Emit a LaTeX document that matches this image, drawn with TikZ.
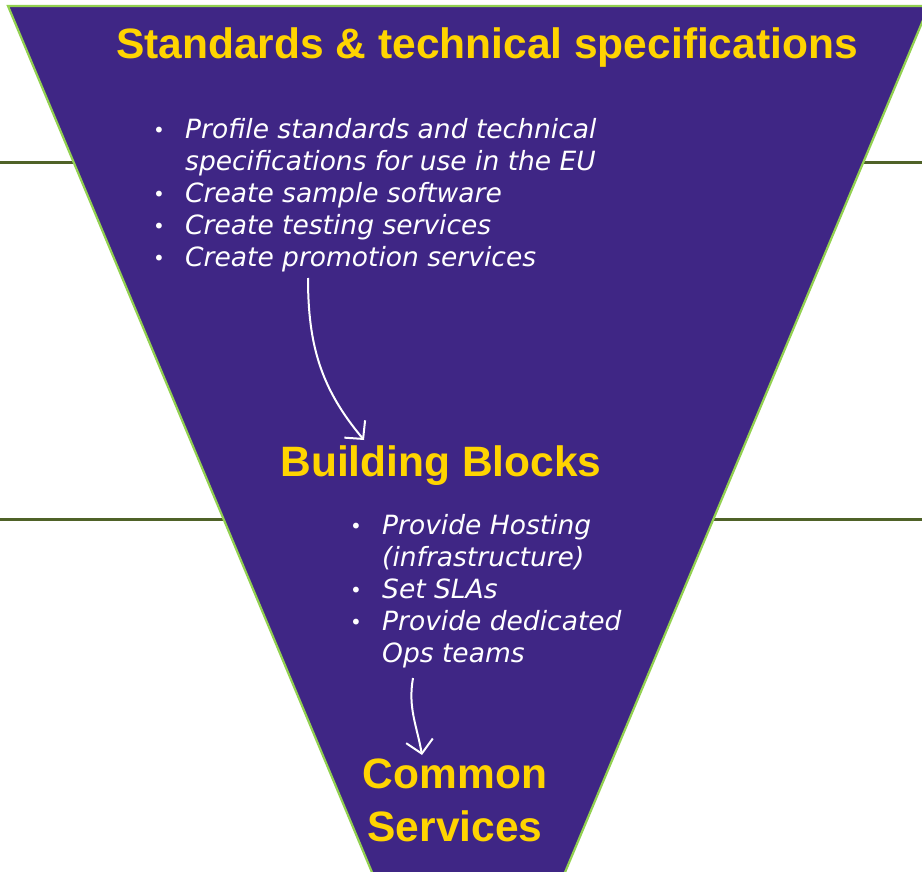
\documentclass[tikz,border=0pt]{standalone}
\usepackage{fontspec}
\usepackage{tikz}
\usetikzlibrary{arrows.meta,positioning}
\newfontfamily\headfont{Liberation Sans}
\newfontfamily\bodyfont{DejaVu Sans}
\definecolor{funnelpurple}{RGB}{63,38,133}
\definecolor{funneledge}{RGB}{146,208,80}
\definecolor{layerline}{RGB}{79,98,40}
\definecolor{headyellow}{RGB}{255,212,0}
\tikzset{
  heading/.style={text=headyellow,inner sep=0pt,font=\headfont\bfseries\fontsize{42.5}{53}\selectfont},
  itemlist/.style={text=white,inner sep=0pt,align=left,font=\bodyfont\itshape\fontsize{26.5}{32}\selectfont},
  flow/.style={white,line width=2pt,-{Straight Barb[length=13pt,width=27pt]}}
}
\newcommand{\itm}{\makebox[32pt][l]{\upshape\fontsize{20}{20}\selectfont\raisebox{1pt}{\textbullet}}}
\newcommand{\gap}{\hspace*{32pt}}
\begin{document}
\begin{tikzpicture}[x=1pt,y=1pt]
\useasboundingbox (0,0) rectangle (922,-872);
\clip (0,0) rectangle (922,-872);
% layer lines
\draw[layerline,line width=3pt] (0,-163) -- (922,-163);
\draw[layerline,line width=3pt] (0,-519) -- (922,-519);
% funnel
\draw[funneledge,line width=2.2pt,fill=funnelpurple] (8,-6) -- (929,-6) -- (468.5,-1102) -- cycle;
%
\node (std) [heading] at (487,-48) {Standards \& technical specifications};
\node (bb) [heading] at (441,-466) {Building Blocks};
\node (cs) [heading,align=center] at (455,-800) {Common\\Services};
%
% base of a multi-line node = last line
\node (stdlist) [itemlist,anchor=base west] at (153,-266) {%
\itm Profile standards and technical\\
\gap specifications for use in the EU\\
\itm Create sample software\\
\itm Create testing services\\
\itm Create promotion services};
\node (bblist) [itemlist,anchor=base west] at (350,-662) {%
\itm Provide Hosting\\
\gap (infrastructure)\\
\itm Set SLAs\\
\itm Provide dedicated\\
\gap Ops teams};
%
\coordinate (f1s) at (308,-278);
\coordinate (f1e) at (364,-440);
\coordinate (f2s) at (413,-678);
\coordinate (f2e) at (422,-755);
\draw[flow] (f1s) to[out=-90,in=130] (f1e);
\draw[flow] (f2s) to[out=-100,in=100] (f2e);
\end{tikzpicture}
\end{document}
